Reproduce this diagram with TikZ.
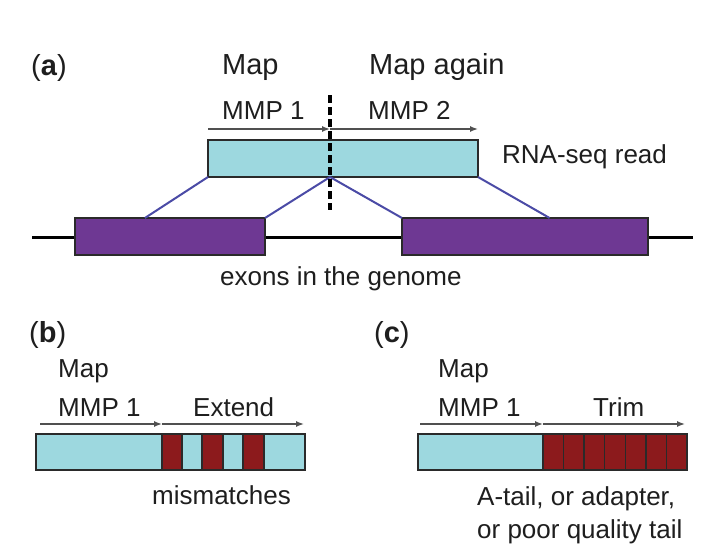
\documentclass[tikz,border=0pt]{standalone}
\usepackage{fontspec}
\setmainfont{Liberation Sans}
\usetikzlibrary{arrows.meta,calc}
\definecolor{readc}{HTML}{9DD8DF}
\definecolor{exonc}{HTML}{6E3893}
\definecolor{redc}{HTML}{8C1A1C}
\definecolor{linkc}{HTML}{4B4BA6}
\definecolor{txt}{HTML}{1E1E1E}
\definecolor{arrc}{HTML}{505050}
\definecolor{boxline}{HTML}{2A2A2A}
\begin{document}
\begin{tikzpicture}[x=1pt,y=-1pt,
  lbl/.style={anchor=base west, inner sep=0pt, font=\fontsize{26}{31}\selectfont, text=txt},
  biglbl/.style={lbl, font=\fontsize{29}{34}\selectfont},
  box/.style={draw=boxline, line width=1.3pt, inner sep=0pt, outer sep=0pt, anchor=north west},
  arr/.style={draw=arrc, line width=1.4pt, -{Latex[length=8pt,width=6pt]}},
  link/.style={draw=linkc, line width=2pt},
  dashline/.style={draw=black, line width=3.2pt, dash pattern=on 8pt off 4pt},
  genome/.style={draw=black, line width=3pt}]
\useasboundingbox[fill=white] (0,0) rectangle (713,546);

% ---------- panel (a) ----------
\node[biglbl] (la) at (31,75) {(\textbf{a})};
\node[biglbl] (map1) at (222,74) {Map};
\node[biglbl] (map2) at (369,74) {Map again};
\node[lbl] (mmp1) at (222,119) {MMP 1};
\node[lbl] (mmp2) at (368,119) {MMP 2};
\node[lbl] (rna) at (502,163) {RNA-seq read};

\coordinate (gL) at (32,237);
\coordinate (gR) at (693,237);
\draw[genome] (gL) -- (gR);

\node[box, fill=readc, minimum width=270pt, minimum height=37pt] (read) at (208,140) {};
\node[box, fill=exonc, minimum width=190pt, minimum height=37pt] (ex1) at (75,218) {};
\node[box, fill=exonc, minimum width=246pt, minimum height=37pt] (ex2) at (402,218) {};

\coordinate (e1a) at ($(ex1.north west)!0.368!(ex1.north east)$);
\coordinate (e2b) at ($(ex2.north west)!0.6!(ex2.north east)$);
\coordinate (j) at ($(read.south west)!0.452!(read.south east)$);
\draw[link] (read.south west) -- (e1a);
\draw[link] (j) -- (ex1.north east);
\draw[link] (j) -- (ex2.north west);
\draw[link] (read.south east) -- (e2b);

\coordinate (a0) at (208,129);
\coordinate (a1) at (330,129);
\coordinate (a2) at (478,129);
\draw[arr] (a0) -- (a1);
\draw[arr] (a1) -- (a2);

\coordinate (dT) at (330,95);
\coordinate (dB) at (330,210);
\draw[dashline] (dT) -- (dB);

\node[lbl] (exons) at (220,285) {exons in the genome};

% ---------- panel (b) ----------
\node[biglbl] (lb) at (29,342) {(\textbf{b})};
\node[lbl] (bmap) at (58,377) {Map};
\node[lbl] (bmmp) at (58,416) {MMP 1};
\node[lbl] (bext) at (193,416) {Extend};
\node[box, fill=readc, minimum width=269pt, minimum height=36pt] (bread) at (36,434) {};
\node[box, fill=redc, minimum width=20pt, minimum height=36pt] (m1) at (162,434) {};
\node[box, fill=redc, minimum width=21pt, minimum height=36pt] (m2) at (202,434) {};
\node[box, fill=redc, minimum width=21pt, minimum height=36pt] (m3) at (243,434) {};
\coordinate (b0) at (40,424);
\coordinate (b1) at (162,424);
\coordinate (b2) at (304,424);
\draw[arr] (b0) -- (b1);
\draw[arr] (b1) -- (b2);
\node[lbl] (mism) at (152,504) {mismatches};

% ---------- panel (c) ----------
\node[biglbl] (lc) at (374,342) {(\textbf{c})};
\node[lbl] (cmap) at (438,377) {Map};
\node[lbl] (cmmp) at (438,416) {MMP 1};
\node[lbl] (ctrim) at (593,416) {Trim};
\node[box, fill=readc, minimum width=125pt, minimum height=36pt] (cread) at (418,434) {};
\foreach \i in {0,...,6}{
  \node[box, fill=redc, minimum width=20.57pt, minimum height=36pt] (t\i) at ({543+20.57*\i},434) {};
}
\coordinate (c0) at (420,424);
\coordinate (c1) at (543,424);
\coordinate (c2) at (685,424);
\draw[arr] (c0) -- (c1);
\draw[arr] (c1) -- (c2);
\node[lbl] (tail1) at (477,505) {A-tail, or adapter,};
\node[lbl] (tail2) at (477,538) {or poor quality tail};
\end{tikzpicture}
\end{document}
